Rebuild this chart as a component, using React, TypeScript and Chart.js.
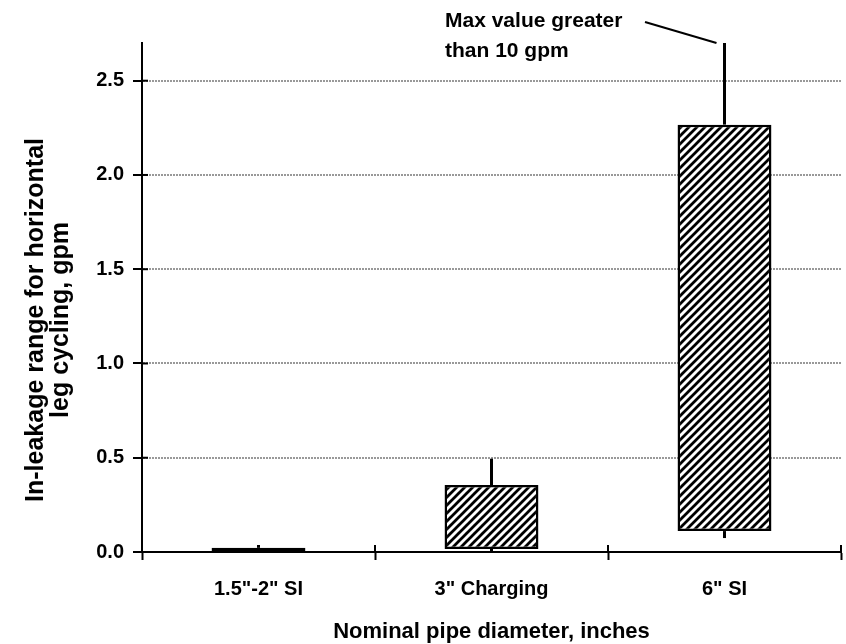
import React, { useEffect, useRef } from "react";
import { Chart, registerables } from "chart.js";

Chart.register(...registerables);

// Pipe size groups and their in-leakage ranges (gpm)
const categories = ['1.5"-2" SI', '3" Charging', '6" SI'];
const boxLow = [0.0, 0.016, 0.111];
const boxHigh = [0.022, 0.355, 2.267];
const rangeMin = [0.0, 0.0, 0.074];
const rangeMax = [0.037, 0.495, 10.2];
const yTickValues = [0, 0.5, 1.0, 1.5, 2.0, 2.5];
const yAxisMax = 2.7;

const xTitle = "Nominal pipe diameter, inches";
const yTitleLines = ["In-leakage range for horizontal", "leg cycling, gpm"];
const noteLines = ["Max value greater", "than 10 gpm"];
const noteCategory = 2;

const FONT = '"Liberation Sans", Arial, Helvetica, sans-serif';

function makeHatch(): CanvasPattern | string {
  const s = 8;
  const c = document.createElement("canvas");
  c.width = s;
  c.height = s;
  const g = c.getContext("2d");
  if (!g) return "#888";
  g.fillStyle = "#ffffff";
  g.fillRect(0, 0, s, s);
  g.strokeStyle = "#000000";
  g.lineWidth = 2.8;
  g.beginPath();
  g.moveTo(-2, s + 2);
  g.lineTo(s + 2, -2);
  g.moveTo(-2, 2);
  g.lineTo(2, -2);
  g.moveTo(s - 2, s + 2);
  g.lineTo(s + 2, s - 2);
  g.stroke();
  return g.createPattern(c, "repeat") || "#888";
}

// Whiskers, inner tick halves, axis titles and the note on the clipped maximum
const overlayPlugin = {
  id: "overlay",
  afterDatasetsDraw(chart: any) {
    const { ctx, chartArea } = chart;
    const xs = chart.scales.x;
    const ys = chart.scales.y;
    ctx.save();
    ctx.beginPath();
    ctx.rect(chartArea.left, chartArea.top, chartArea.right - chartArea.left, chartArea.bottom - chartArea.top + 2);
    ctx.clip();
    ctx.strokeStyle = "#000";
    ctx.lineWidth = 3;
    ctx.lineCap = "butt";
    categories.forEach((_, i) => {
      const x = xs.getPixelForValue(i);
      const yTop = ys.getPixelForValue(Math.min(rangeMax[i], yAxisMax));
      const yHi = ys.getPixelForValue(boxHigh[i]);
      const yLo = ys.getPixelForValue(boxLow[i]);
      const yBot = ys.getPixelForValue(rangeMin[i]);
      ctx.beginPath();
      ctx.moveTo(x, yTop);
      ctx.lineTo(x, yHi);
      ctx.stroke();
      if (yBot - yLo > 0.5) {
        ctx.beginPath();
        ctx.moveTo(x, yLo);
        ctx.lineTo(x, yBot);
        ctx.stroke();
      }
    });
    ctx.restore();
  },
  afterDraw(chart: any) {
    const { ctx, chartArea } = chart;
    const xs = chart.scales.x;
    const ys = chart.scales.y;
    ctx.save();
    // inner halves of the crossing tick marks
    ctx.strokeStyle = "#000";
    ctx.lineWidth = 2;
    yTickValues.forEach((v) => {
      const y = ys.getPixelForValue(v);
      ctx.beginPath();
      ctx.moveTo(chartArea.left, y);
      ctx.lineTo(chartArea.left + 6, y);
      ctx.stroke();
    });
    const step = xs.getPixelForValue(1) - xs.getPixelForValue(0);
    for (let i = 0; i <= categories.length; i++) {
      const x = Math.round(xs.getPixelForValue(0) - step / 2 + i * step);
      ctx.beginPath();
      ctx.moveTo(x, chartArea.bottom);
      ctx.lineTo(x, chartArea.bottom - 7);
      ctx.stroke();
    }

    ctx.fillStyle = "#000";
    // x axis title
    ctx.font = `bold 22px ${FONT}`;
    ctx.textAlign = "center";
    ctx.textBaseline = "alphabetic";
    ctx.fillText(xTitle, (chartArea.left + chartArea.right) / 2, 638);

    // y axis title (two rotated lines)
    ctx.font = `bold 25px ${FONT}`;
    const cy = 320;
    [43, 68].forEach((bx, k) => {
      ctx.save();
      ctx.translate(bx, cy);
      ctx.rotate(-Math.PI / 2);
      ctx.fillText(yTitleLines[k], 0, 0);
      ctx.restore();
    });

    // note about the maximum beyond the axis
    ctx.font = `bold 21px ${FONT}`;
    ctx.textAlign = "left";
    ctx.fillText(noteLines[0], 445, 27);
    ctx.fillText(noteLines[1], 445, 57);
    const wx = xs.getPixelForValue(noteCategory);
    ctx.lineWidth = 2;
    ctx.beginPath();
    ctx.moveTo(645, 22);
    ctx.lineTo(wx - 8, chartArea.top);
    ctx.stroke();
    ctx.restore();
  },
};

export default function App() {
  const canvasRef = useRef<HTMLCanvasElement | null>(null);

  useEffect(() => {
    const canvas = canvasRef.current;
    if (!canvas) return;
    const hatch = makeHatch();
    const chart = new Chart(canvas, {
      type: "bar",
      data: {
        labels: categories,
        datasets: [
          {
            data: categories.map((_, i) => [boxLow[i], boxHigh[i]]) as any,
            backgroundColor: hatch as any,
            borderColor: "#000",
            borderWidth: 2.5,
            borderSkipped: false,
            barPercentage: 0.403,
            categoryPercentage: 1,
          },
        ],
      },
      options: {
        animation: false,
        responsive: false,
        maintainAspectRatio: false,
        layout: { padding: { top: 43, right: 5, left: 0, bottom: 0 } },
        plugins: {
          legend: { display: false },
          tooltip: { enabled: false },
        },
        scales: {
          x: {
            type: "category",
            offset: true,
            afterFit: (s: any) => {
              s.height = 92;
            },
            grid: {
              offset: true,
              drawOnChartArea: false,
              tickColor: "#000",
              tickWidth: 2,
              tickLength: 8,
            },
            border: { color: "#000", width: 2 },
            ticks: {
              color: "#000",
              padding: 17,
              font: { family: FONT, size: 20, weight: "bold" },
              maxRotation: 0,
            },
          },
          y: {
            min: 0,
            max: yAxisMax,
            afterFit: (s: any) => {
              s.width = 142;
            },
            afterBuildTicks: (s: any) => {
              s.ticks = yTickValues.map((v) => ({ value: v }));
            },
            grid: {
              color: "#999999",
              lineWidth: 2,
              tickColor: "#000",
              tickWidth: 2,
              tickLength: 9,
            },
            border: { color: "#000", width: 2, dash: [2, 1] },
            ticks: {
              color: "#000",
              padding: 9,
              font: { family: FONT, size: 20, weight: "bold" },
              callback: (v: any) => Number(v).toFixed(1),
            },
          },
        },
      },
      plugins: [overlayPlugin],
    });
    return () => chart.destroy();
  }, []);

  return (
    <div style={{ position: "fixed", left: 0, top: 0, width: 846, height: 644, background: "#fff" }}>
      <canvas ref={canvasRef} width={846} height={644} style={{ display: "block" }} />
    </div>
  );
}
